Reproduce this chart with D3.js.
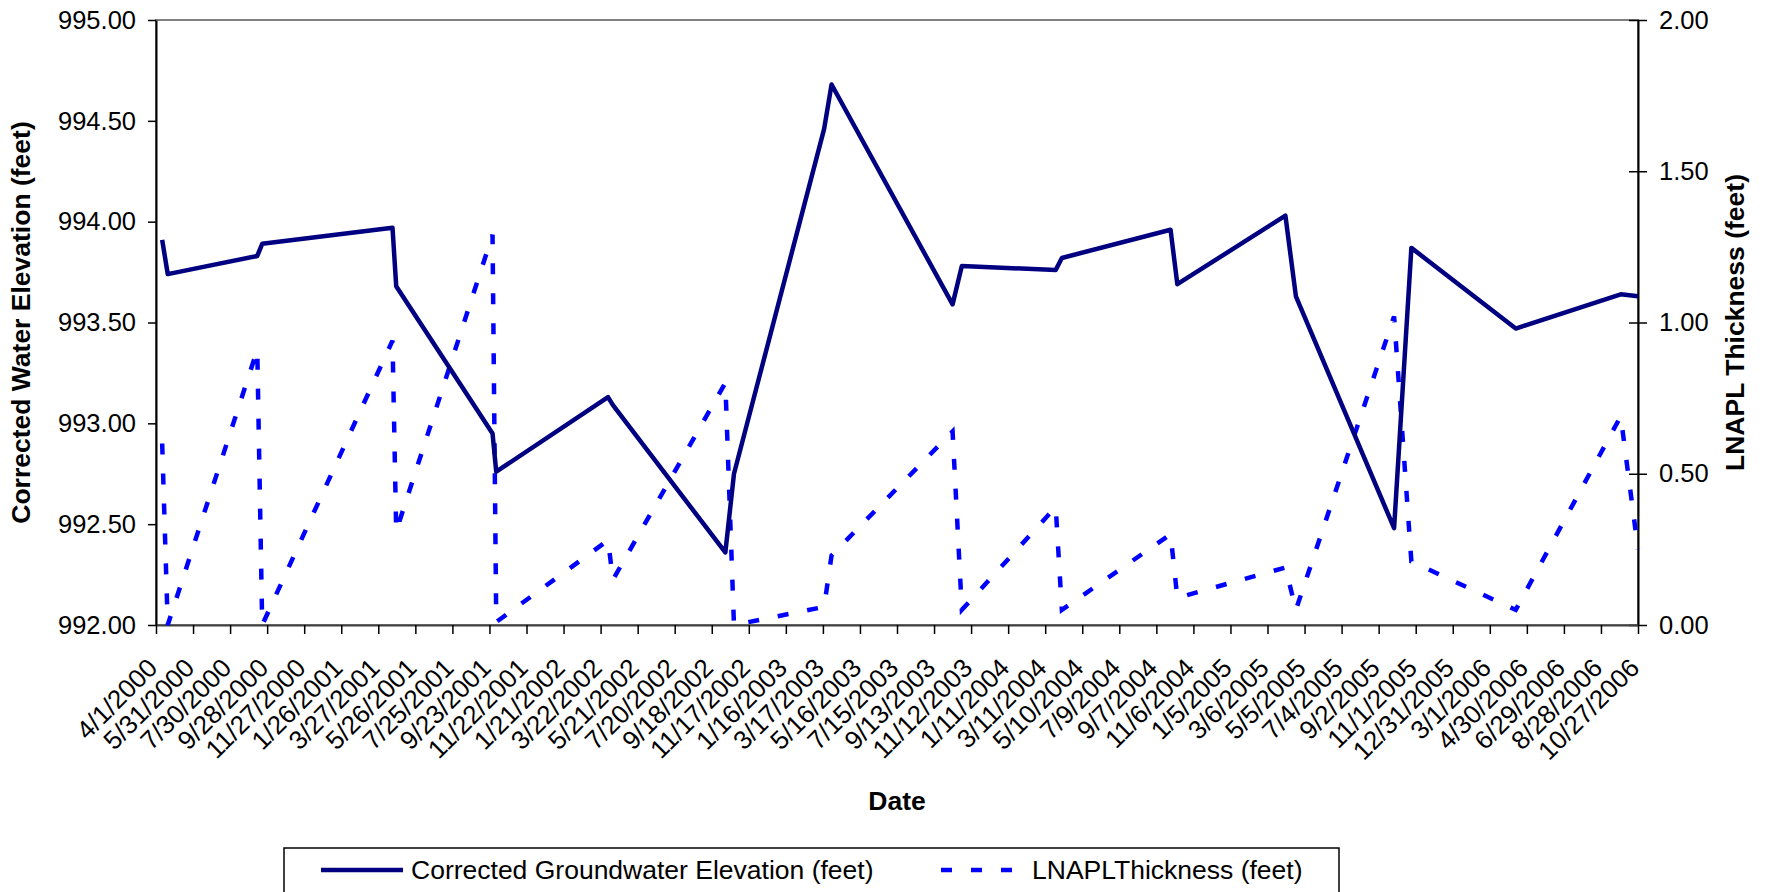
<!DOCTYPE html>
<html>
<head>
<meta charset="utf-8">
<script src="https://cdn.jsdelivr.net/npm/d3@7"></script>
<style>
  html, body { margin: 0; padding: 0; background: #fff; }
  svg { display: block; font-family: Arial, "Liberation Sans", sans-serif; }
</style>
</head>
<body>
<svg id="chart" width="1765" height="892"></svg>
<script>
// ---- data ----
const sampleDates = [
  "4/11/2000","4/20/2000","9/12/2000","9/20/2000","4/19/2001","4/25/2001",
  "9/28/2001","10/4/2001","4/3/2002","4/11/2002","10/10/2002","10/24/2002",
  "3/19/2003","3/31/2003","10/13/2003","10/28/2003","3/28/2004","4/7/2004",
  "9/30/2004","10/11/2004","4/4/2005","4/21/2005","9/27/2005","10/25/2005",
  "4/12/2006","9/29/2006","10/27/2006"
];
const elevation = [
  993.91, 993.74, 993.83, 993.89, 993.97, 993.68,
  992.95, 992.76, 993.13, 993.09, 992.36, 992.75,
  994.46, 994.68, 993.59, 993.78, 993.76, 993.82,
  993.96, 993.69, 994.03, 993.63, 992.48, 993.87,
  993.47, 993.64, 993.63
];
const lnaplThickness = [
  0.60, 0.00, 0.91, 0.00, 0.94, 0.31,
  1.29, 0.01, 0.28, 0.15, 0.80, 0.00,
  0.06, 0.23, 0.64, 0.05, 0.39, 0.05,
  0.30, 0.09, 0.19, 0.05, 1.02, 0.21,
  0.05, 0.69, 0.25
];
const xTickLabels = [
  "4/1/2000","5/31/2000","7/30/2000","9/28/2000","11/27/2000","1/26/2001",
  "3/27/2001","5/26/2001","7/25/2001","9/23/2001","11/22/2001","1/21/2002",
  "3/22/2002","5/21/2002","7/20/2002","9/18/2002","11/17/2002","1/16/2003",
  "3/17/2003","5/16/2003","7/15/2003","9/13/2003","11/12/2003","1/11/2004",
  "3/11/2004","5/10/2004","7/9/2004","9/7/2004","11/6/2004","1/5/2005",
  "3/6/2005","5/5/2005","7/4/2005","9/2/2005","11/1/2005","12/31/2005",
  "3/1/2006","4/30/2006","6/29/2006","8/28/2006","10/27/2006"
];
const leftTicks = [992.0, 992.5, 993.0, 993.5, 994.0, 994.5, 995.0];
const rightTicks = [0.0, 0.5, 1.0, 1.5, 2.0];
const seriesNames = ["Corrected Groundwater Elevation (feet)", "LNAPLThickness (feet)"];

// ---- layout ----
const parse = d3.utcParse("%m/%d/%Y");
const L = 156, R = 1638, T = 20, B = 625;
const TICKFONT = 25.5, XFONT = 26, TITLEFONT = 26.5, LEGFONT = 26.5;
const FAM = "Arial, 'Liberation Sans', sans-serif";

const svg = d3.select("#chart");

const x = d3.scaleUtc()
  .domain([parse(xTickLabels[0]), parse(xTickLabels[xTickLabels.length - 1])])
  .range([L, R]);
const yL = d3.scaleLinear().domain([992, 995]).range([B, T]);
const yR = d3.scaleLinear().domain([0, 2]).range([B, T]);

// plot-area border (gray)
svg.append("rect")
  .attr("x", L).attr("y", T).attr("width", R - L).attr("height", B - T)
  .attr("fill", "none").attr("stroke", "#808080").attr("stroke-width", 2);

// left axis
const gL = svg.append("g").attr("transform", `translate(${L},0)`)
  .call(d3.axisLeft(yL).tickValues(leftTicks).tickFormat(d3.format(".2f"))
    .tickSizeInner(8).tickSizeOuter(0).tickPadding(12));
gL.select(".domain").attr("stroke", "#000").attr("stroke-width", 2);
gL.selectAll(".tick line").attr("stroke", "#000").attr("stroke-width", 1.5);
gL.selectAll("text").attr("font-size", TICKFONT).attr("fill", "#000").attr("font-family", FAM);

// right axis (crossing ticks)
const gR = svg.append("g").attr("transform", `translate(${R},0)`)
  .call(d3.axisRight(yR).tickValues(rightTicks).tickFormat(d3.format(".2f"))
    .tickSizeInner(9).tickSizeOuter(0).tickPadding(12));
gR.select(".domain").attr("stroke", "#000").attr("stroke-width", 2);
gR.selectAll(".tick line").attr("x1", -9).attr("stroke", "#000").attr("stroke-width", 1.5);
gR.selectAll("text").attr("font-size", TICKFONT).attr("fill", "#000").attr("font-family", FAM);

// bottom axis
const tickDates = xTickLabels.map(parse);
const gB = svg.append("g").attr("transform", `translate(0,${B})`)
  .call(d3.axisBottom(x).tickValues(tickDates)
    .tickFormat((d, i) => xTickLabels[i]).tickSizeInner(9).tickSizeOuter(0));
gB.select(".domain").attr("stroke", "#404040").attr("stroke-width", 2);
gB.selectAll(".tick line").attr("stroke", "#000").attr("stroke-width", 1.5);
gB.selectAll(".tick text")
  .attr("font-size", XFONT).attr("fill", "#000").attr("font-family", FAM)
  .attr("text-anchor", "end")
  .attr("y", 0).attr("dy", "0.35em")
  .attr("transform", "translate(-4,38) rotate(-45)");

// axis titles
svg.append("text")
  .attr("transform", `translate(30,${(T + B) / 2}) rotate(-90)`)
  .attr("text-anchor", "middle").attr("font-weight", "bold").attr("font-size", TITLEFONT)
  .text("Corrected Water Elevation (feet)");
svg.append("text")
  .attr("transform", `translate(1744,${(T + B) / 2}) rotate(-90)`)
  .attr("text-anchor", "middle").attr("font-weight", "bold").attr("font-size", TITLEFONT)
  .text("LNAPL Thickness (feet)");
svg.append("text")
  .attr("x", (L + R) / 2).attr("y", 810)
  .attr("text-anchor", "middle").attr("font-weight", "bold").attr("font-size", TITLEFONT)
  .text("Date");

// series
const data = sampleDates.map((d, i) => ({ date: parse(d), elev: elevation[i], thick: lnaplThickness[i] }));

svg.append("path").datum(data)
  .attr("fill", "none").attr("stroke", "#0000FF").attr("stroke-width", 4.5)
  .attr("stroke-dasharray", "11,19").attr("stroke-linejoin", "miter")
  .attr("d", d3.line().x(d => x(d.date)).y(d => yR(d.thick)));

svg.append("path").datum(data)
  .attr("fill", "none").attr("stroke", "#000080").attr("stroke-width", 4.5)
  .attr("stroke-linejoin", "round")
  .attr("d", d3.line().x(d => x(d.date)).y(d => yL(d.elev)));

// legend
const lg = svg.append("g");
lg.append("rect").attr("x", 284).attr("y", 848).attr("width", 1055).attr("height", 70)
  .attr("fill", "#fff").attr("stroke", "#000").attr("stroke-width", 1.5);
lg.append("line").attr("x1", 321).attr("x2", 403).attr("y1", 870).attr("y2", 870)
  .attr("stroke", "#000080").attr("stroke-width", 4.5);
lg.append("text").attr("x", 411).attr("y", 870).attr("dy", "0.35em")
  .attr("font-size", LEGFONT).text(seriesNames[0]);
lg.append("line").attr("x1", 941).attr("x2", 1025).attr("y1", 870).attr("y2", 870)
  .attr("stroke", "#0000FF").attr("stroke-width", 4.5).attr("stroke-dasharray", "11,19");
lg.append("text").attr("x", 1032).attr("y", 870).attr("dy", "0.35em")
  .attr("font-size", LEGFONT).text(seriesNames[1]);
</script>
</body>
</html>
